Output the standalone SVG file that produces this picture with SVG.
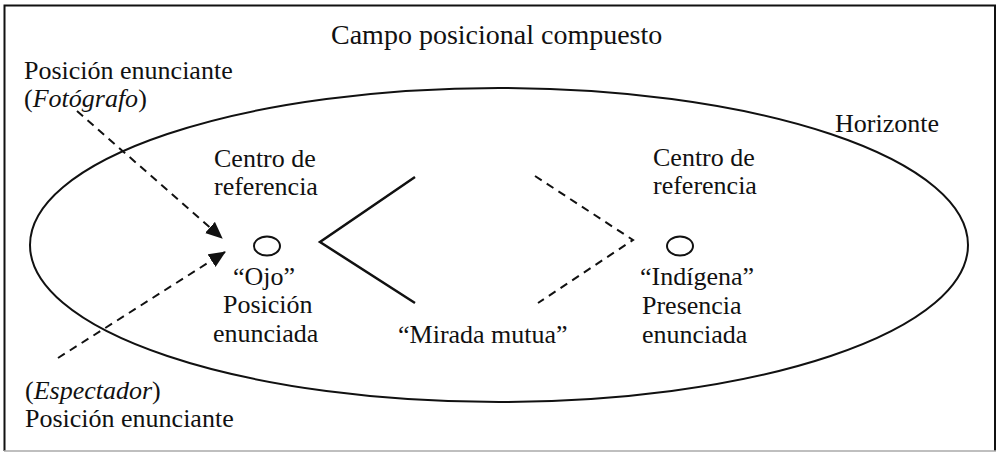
<svg xmlns="http://www.w3.org/2000/svg" width="997" height="453" viewBox="0 0 997 453">
<style>
text{font-family:"Liberation Serif","Times New Roman",serif;font-size:26px;fill:#111}
.title{font-size:28px}
.solid{fill:none;stroke:#111;stroke-width:2.5}
.dash{fill:none;stroke:#111;stroke-width:2;stroke-dasharray:8 6}
.node{fill:none;stroke:#111;stroke-width:2}
</style>
<defs>
<marker id="arr" markerWidth="17" markerHeight="15" refX="16" refY="7.5" orient="auto" markerUnits="userSpaceOnUse">
<path d="M0,0 L17,7.5 L0,15 Z" fill="#111"/>
</marker>
</defs>
<rect x="0" y="0" width="997" height="453" fill="#fff"/>
<g id="frame">
<path d="M4.5,451 L4.5,5.5 L995,5.5 L995,451" fill="none" stroke="#111" stroke-width="2"/>
<line x1="4" y1="451" x2="996" y2="451" stroke="#aaa" stroke-width="1.5"/>
</g>
<text class="title" x="331" y="44">Campo posicional compuesto</text>
<g id="horizonte">
<ellipse cx="499" cy="245" rx="469" ry="157" class="node"/>
<text x="835" y="132">Horizonte</text>
</g>
<g id="fotografo">
<text x="24" y="79">Posición enunciante</text>
<text x="24" y="107">(<tspan font-style="italic">Fotógrafo</tspan>)</text>
</g>
<g id="espectador">
<text x="25" y="399">(<tspan font-style="italic">Espectador</tspan>)</text>
<text x="25" y="427">Posición enunciante</text>
</g>
<g id="ojo">
<text x="214" y="167">Centro de</text>
<text x="214" y="195">referencia</text>
<ellipse cx="267" cy="246" rx="13" ry="9.5" class="node"/>
<text x="233" y="285">“Ojo”</text>
<text x="223" y="313">Posición</text>
<text x="213" y="342">enunciada</text>
</g>
<g id="indigena">
<text x="653" y="166">Centro de</text>
<text x="653" y="194">referencia</text>
<ellipse cx="680" cy="246" rx="13" ry="9.5" class="node"/>
<text x="640" y="285">“Indígena”</text>
<text x="642" y="314">Presencia</text>
<text x="642" y="343">enunciada</text>
</g>
<g id="mirada">
<text x="398" y="343">“Mirada mutua”</text>
</g>
<g id="connectors">
<line x1="77" y1="111" x2="222" y2="238" class="dash" marker-end="url(#arr)"/>
<line x1="58" y1="358" x2="225" y2="252" class="dash" marker-end="url(#arr)"/>
<polyline points="415,177 320,242 415,303" class="solid"/>
<polyline points="535,176 633,240 538,303" class="dash"/>
</g>
</svg>
